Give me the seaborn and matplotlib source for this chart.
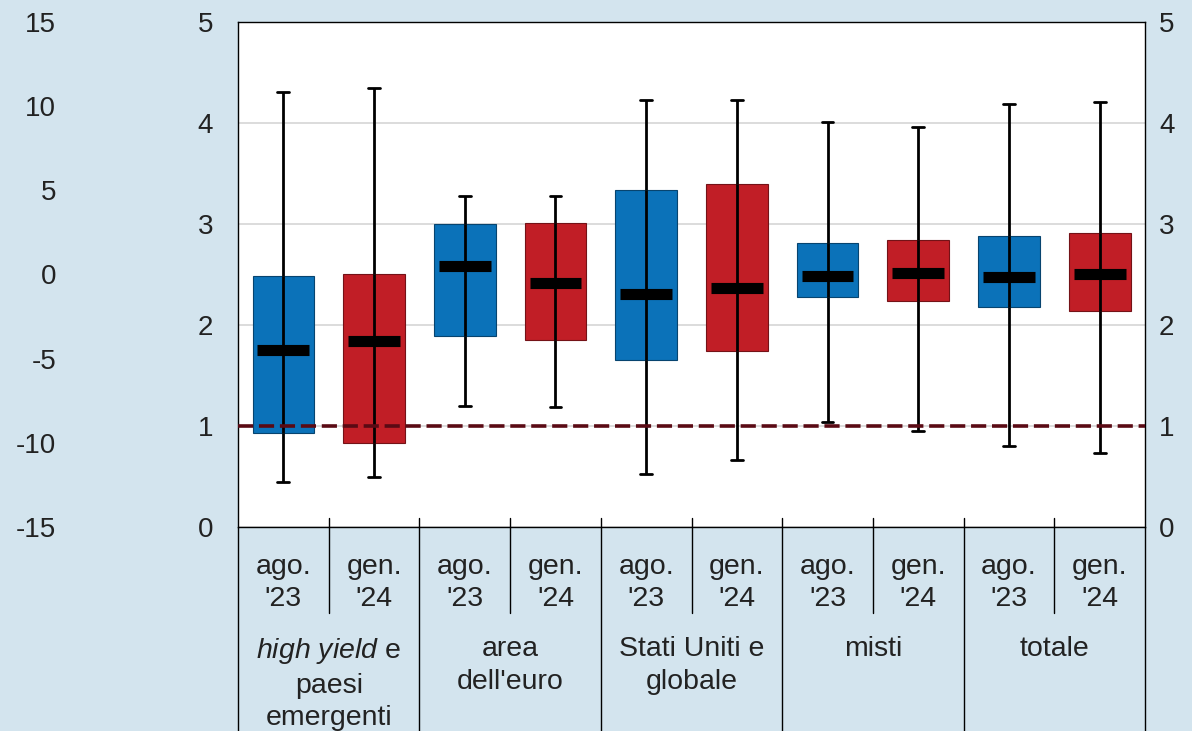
import numpy as np
import pandas as pd
import matplotlib.pyplot as plt
import matplotlib.transforms as mtransforms
import seaborn as sns

# Dati (scala di destra/sinistra interna, 0-5)
group_labels = ["$\\mathit{high\\ yield}$ e\npaesi\nemergenti", "area\ndell'euro",
                "Stati Uniti e\nglobale", "misti", "totale"]
periods = ["ago. '23", "gen. '24"]
period_labels = ["ago.\n'23", "gen.\n'24"]

low = [0.45, 0.50, 1.20, 1.19, 0.53, 0.66, 1.04, 0.95, 0.80, 0.73]
q1 = [0.93, 0.83, 1.89, 1.85, 1.65, 1.74, 2.28, 2.24, 2.18, 2.14]
med = [1.75, 1.84, 2.58, 2.42, 2.31, 2.37, 2.49, 2.51, 2.48, 2.50]
q3 = [2.49, 2.50, 3.00, 3.01, 3.34, 3.40, 2.81, 2.84, 2.88, 2.91]
high = [4.31, 4.35, 3.28, 3.28, 4.23, 4.23, 4.01, 3.96, 4.19, 4.21]
threshold = 1.0

inner_ticks = [0, 1, 2, 3, 4, 5]
outer_ticks = [-15, -10, -5, 0, 5, 10, 15]

bg = "#d3e4ee"
colors = {"ago. '23": "#0b72b9", "gen. '24": "#c11e26"}

# cinque valori per box: con whis=(0,100) i quartili coincidono
rows = []
for i in range(len(med)):
    for v in (low[i], q1[i], med[i], q3[i], high[i]):
        rows.append({"box": str(i), "period": periods[i % 2], "value": v})
df = pd.DataFrame(rows)
order = [str(i) for i in range(len(med))]

sns.set_style("white")
plt.rcParams['font.family'] = ['Liberation Sans', 'DejaVu Sans']
plt.rcParams['mathtext.fontset'] = 'custom'
plt.rcParams['mathtext.rm'] = 'Liberation Sans'
plt.rcParams['mathtext.it'] = 'Liberation Sans:italic'
plt.rcParams['axes.unicode_minus'] = False

fig = plt.figure(figsize=(11.92, 7.31), dpi=100, facecolor=bg)
ax = fig.add_axes([0.1997, 0.279, 0.7609, 0.691])
ax.set_facecolor("white")

fs = 20
fs_tab = 20.5
txt = "#222222"

sns.boxplot(data=df, x="box", y="value", hue="period", order=order,
            palette=colors, saturation=1, dodge=False, whis=(0, 100), width=0.68,
            legend=False, ax=ax, capwidths=0.13,
            boxprops=dict(linewidth=0.8, zorder=2),
            whiskerprops=dict(color="black", linewidth=2.0),
            capprops=dict(color="black", linewidth=2.0),
            medianprops=dict(color="black", linewidth=8, zorder=4,
                             solid_capstyle="butt"))

# bordo box più scuro
for patch in ax.patches:
    fc = patch.get_facecolor()
    patch.set_edgecolor(tuple(c * 0.6 for c in fc[:3]))

# mediana leggermente più corta del box
for line in ax.lines:
    if line.get_linewidth() == 8:
        xd = np.asarray(line.get_xdata(), dtype=float)
        c = xd.mean()
        line.set_xdata(c + (xd - c) * 0.84)

# linea verticale dentro il box
pos = np.arange(len(med))
ax.vlines(pos, q1, q3, color="black", linewidth=2.0, zorder=3)

ax.axhline(threshold, color="#5a0a14", linewidth=2.6,
           linestyle=(0, (4.2, 1.6)), zorder=5)

ax.set_ylim(0, 5)
ax.set_xlim(-0.5, len(med) - 0.5)
ax.set_yticks(inner_ticks)
ax.set_yticklabels([str(t) for t in inner_ticks])
ax.yaxis.grid(True, color="#d9d9d9", linewidth=1.3, zorder=0)
ax.set_axisbelow(True)
ax.set_xticks([])
ax.set_xlabel("")
ax.set_ylabel("")
ax.tick_params(axis="y", length=0, pad=18, labelsize=fs, labelcolor=txt)
for s in ax.spines.values():
    s.set_color("black")
    s.set_linewidth(1.0)

# asse destro
ax2 = ax.twinx()
ax2.set_ylim(0, 5)
ax2.set_yticks(inner_ticks)
ax2.set_yticklabels([str(t) for t in inner_ticks])
ax2.tick_params(axis="y", length=0, pad=10, labelsize=fs, labelcolor=txt)
for s in ax2.spines.values():
    s.set_visible(False)

# asse esterno sinistro
ax3 = ax.twinx()
ax3.set_ylim(-15, 15)
ax3.yaxis.set_ticks_position("left")
ax3.set_yticks(outer_ticks)
ax3.set_yticklabels([str(t) for t in outer_ticks])
ax3.tick_params(axis="y", length=0, pad=131, labelsize=fs, labelcolor=txt)
for s in ax3.spines.values():
    s.set_visible(False)

# tabella delle etichette sotto il grafico
trans = mtransforms.blended_transform_factory(ax.transData, ax.transAxes)
bottom = -0.41
for b in np.arange(0.5, len(med) - 1, 1.0):
    y_end = bottom if int(b - 0.5) % 2 == 1 else -0.170
    ax.plot([b, b], [0.017, y_end], color="black", linewidth=1.0,
            transform=trans, clip_on=False)
for b in (-0.5, len(med) - 0.5):
    ax.plot([b, b], [0, bottom], color="black", linewidth=1.0,
            transform=trans, clip_on=False)

for i in range(len(med)):
    ax.text(i, -0.11, period_labels[i % 2], transform=trans, ha="center",
            va="center", fontsize=fs_tab, color=txt, linespacing=1.3)
for g, lab in enumerate(group_labels):
    ax.text(2 * g + 0.5, -0.216, lab, transform=trans, ha="center", va="top",
            fontsize=fs_tab, color=txt, linespacing=1.32, multialignment="center")

fig.savefig("out.png", dpi=100, facecolor=bg)
